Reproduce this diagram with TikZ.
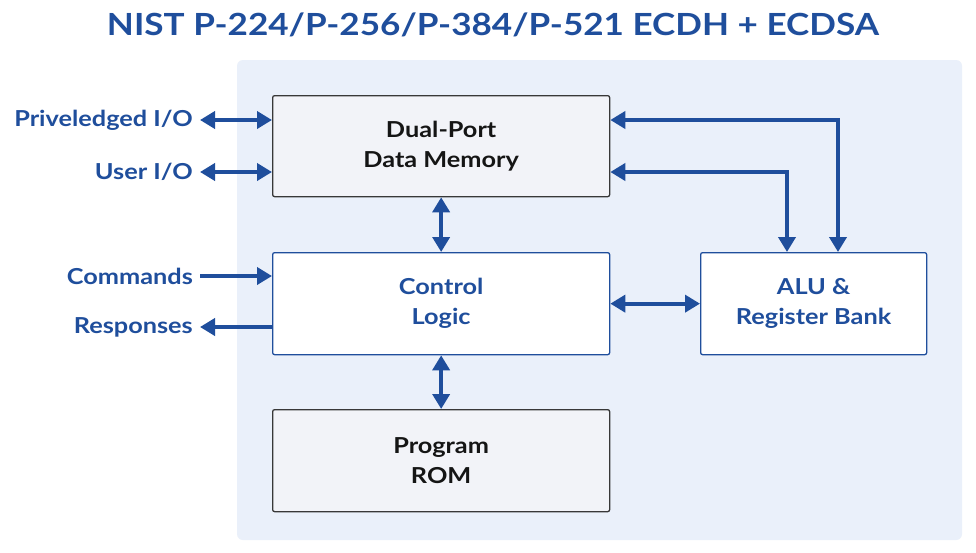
\documentclass[tikz,border=0pt]{standalone}
\usepackage{fontspec}
\setmainfont{Lato}[FakeStretch=1.15]
\usetikzlibrary{arrows.meta}
\definecolor{nblue}{HTML}{1F4E9C}
\definecolor{panel}{HTML}{EAF0FA}
\definecolor{boxgray}{HTML}{F2F3F8}
\definecolor{txtdark}{HTML}{151515}
\begin{document}
\begin{tikzpicture}[x=1pt,y=-1pt,
  blk/.style={draw, line width=1.3pt, rounded corners=2pt, align=center, anchor=north west, inner sep=0pt},
  graybox/.style={blk, draw=txtdark!85, fill=boxgray, text=txtdark},
  bluebox/.style={blk, draw=nblue, fill=white, text=nblue},
  conn/.style={draw=nblue, line width=4pt, {Triangle[length=15pt,width=17pt]}-{Triangle[length=15pt,width=17pt]}},
  conn1/.style={draw=nblue, line width=4pt, -{Triangle[length=15pt,width=17pt]}},
  lbl/.style={text=nblue, font=\fontsize{22}{26}\selectfont\bfseries, anchor=east, inner sep=0pt},
  btxt/.style={font=\fontsize{22}{30}\selectfont\bfseries}
]
\useasboundingbox (0,0) rectangle (976,552);
\fill[white] (0,0) rectangle (976,552);
\fill[panel, rounded corners=6pt] (237,60) rectangle (962,540);
\node[text=nblue, font=\fontsize{30.5}{36}\selectfont\bfseries] (title) at (493,25) {NIST P-224/P-256/P-384/P-521 ECDH + ECDSA};

\node[graybox, minimum width=337pt, minimum height=101pt, btxt] (mem) at (272,95) {Dual-Port\\Data Memory};
\node[bluebox, minimum width=337pt, minimum height=102pt, btxt] (ctl) at (272,252) {Control\\Logic};
\node[graybox, minimum width=337pt, minimum height=102pt, btxt] (rom) at (272,409) {Program\\ROM};
\node[bluebox, minimum width=226pt, minimum height=102pt, btxt] (alu) at (700,252) {ALU \&\\Register Bank};

\node[lbl] (pio) at (193,120) {Priveledged I/O};
\node[lbl] (uio) at (193,172) {User I/O};
\node[lbl] (cmd) at (193,276) {Commands};
\node[lbl] (rsp) at (193,327) {Responses};

\coordinate (pioE) at (200,120);
\coordinate (uioE) at (200,172);
\coordinate (cmdE) at (200,276);
\coordinate (rspE) at (200,327);

\draw[conn] (pioE) -- (pioE -| mem.west);
\draw[conn] (uioE) -- (uioE -| mem.west);
\draw[conn1] (cmdE) -- (cmdE -| ctl.west);
\draw[conn1] (rspE -| ctl.west) -- (rspE);

\draw[conn] (mem.south) -- (ctl.north);
\draw[conn] (ctl.south) -- (rom.north);
\draw[conn] (ctl.east) -- (ctl.east -| alu.west);

\coordinate (r1) at (838,120);
\coordinate (r2) at (787,172);
\draw[conn] (r1 -| mem.east) -- (r1) -- (r1 |- alu.north);
\draw[conn] (r2 -| mem.east) -- (r2) -- (r2 |- alu.north);
\end{tikzpicture}
\end{document}
